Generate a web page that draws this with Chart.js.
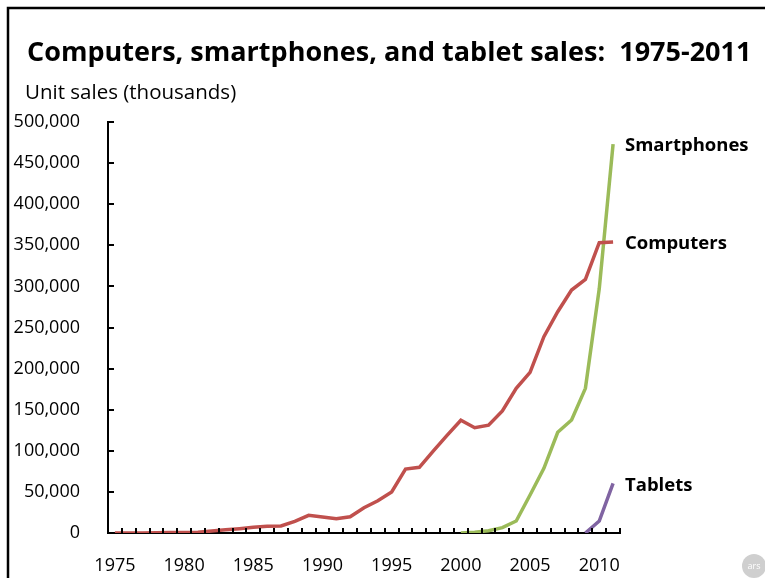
<!DOCTYPE html>
<html>
<head>
<meta charset="utf-8">
<script src="https://cdn.jsdelivr.net/npm/chart.js@4.4.0/dist/chart.umd.min.js"></script>
<style>
    html, body { margin: 0; padding: 0; background: #fff; }
    #wrap { position: relative; width: 765px; height: 578px; }
</style>
</head>
<body>
<div id="wrap"><canvas id="salesChart" width="765" height="578"></canvas></div>
<script>
// data (unit sales, thousands)
const years = [];
for (let y = 1975; y <= 2011; y++) years.push(String(y));

const computers = [40, 50, 100, 250, 500, 700, 900, 2400, 4000, 5300,
    6900, 8100, 8500, 14200, 21500, 19500, 17400, 19800, 30800, 39300,
    50000, 77700, 79900, 99700, 118800, 137200, 128100, 131200, 148600, 176000,
    195500, 238800, 269200, 295600, 308600, 353200, 354000];

const smartphones = [null, null, null, null, null, null, null, null, null, null,
    null, null, null, null, null, null, null, null, null, null,
    null, null, null, null, null, 0, 1000, 2800, 6500, 14600,
    46200, 78700, 122500, 137500, 176000, 297000, 473000];

const tablets = [null, null, null, null, null, null, null, null, null, null,
    null, null, null, null, null, null, null, null, null, null,
    null, null, null, null, null, null, null, null, null, null,
    null, null, null, null, 0, 14600, 60400];

const yTicks = [0, 50000, 100000, 150000, 200000, 250000, 300000, 350000, 400000, 450000, 500000];

const FONT = "'Open Sans', 'Noto Sans', sans-serif";

// title, subtitle, frame, inner ticks and end labels
const decorations = {
    id: 'decorations',
    afterDraw(chart) {
        const ctx = chart.ctx;
        const x = chart.scales.x, y = chart.scales.y;
        const area = chart.chartArea;
        ctx.save();

        // frame
        ctx.strokeStyle = '#000';
        ctx.lineWidth = 2.5;
        ctx.beginPath();
        ctx.moveTo(8, 578);
        ctx.lineTo(8, 8);
        ctx.lineTo(765, 8);
        ctx.stroke();

        // title + subtitle
        ctx.fillStyle = '#000';
        ctx.textBaseline = 'alphabetic';
        ctx.textAlign = 'left';
        ctx.font = 'bold 27px ' + FONT;
        ctx.fillText('Computers, smartphones, and tablet sales:  1975-2011', 27, 61);
        ctx.font = '20.5px ' + FONT;
        ctx.fillText('Unit sales (thousands)', 25, 99);

        // inner tick marks
        ctx.lineWidth = 2;
        ctx.beginPath();
        yTicks.forEach(v => {
            const py = Math.round(y.getPixelForValue(v));
            ctx.moveTo(area.left, py);
            ctx.lineTo(area.left + 6, py);
        });
        const step = (area.right - area.left) / years.length;
        for (let i = 0; i <= years.length; i++) {
            const px = Math.round(area.left + i * step);
            ctx.moveTo(px, area.bottom);
            ctx.lineTo(px, area.bottom - 5);
        }
        ctx.stroke();

        // series labels at line ends
        ctx.font = 'bold 18.5px ' + FONT;
        ctx.textBaseline = 'middle';
        chart.data.datasets.forEach((ds, i) => {
            const meta = chart.getDatasetMeta(i);
            const last = meta.data[meta.data.length - 1];
            ctx.fillText(ds.label, area.right + 5, last.y + 2);
        });

        // small logo mark
        ctx.fillStyle = '#cfcfcf';
        ctx.beginPath();
        ctx.arc(754, 566, 12, 0, Math.PI * 2);
        ctx.fill();
        ctx.fillStyle = '#fff';
        ctx.font = '9px ' + FONT;
        ctx.textAlign = 'center';
        ctx.fillText('ars', 754, 566);
        ctx.restore();
    }
};

const ctx = document.getElementById('salesChart').getContext('2d');
const chart = new Chart(ctx, {
    type: 'line',
    data: {
        labels: years,
        datasets: [
            { label: 'Computers', data: computers, borderColor: '#C0504D' },
            { label: 'Smartphones', data: smartphones, borderColor: '#9BBB59' },
            { label: 'Tablets', data: tablets, borderColor: '#8064A2' }
        ]
    },
    options: {
        responsive: false,
        animation: false,
        layout: { padding: { top: 122, right: 145, left: 0, bottom: 0 } },
        elements: {
            line: { borderWidth: 3.5, tension: 0, borderCapStyle: 'butt' },
            point: { radius: 0 }
        },
        plugins: {
            legend: { display: false },
            title: { display: false },
            tooltip: { enabled: false }
        },
        scales: {
            x: {
                offset: true,
                grid: { display: false },
                border: { display: true, color: '#000', width: 2 },
                ticks: {
                    autoSkip: false,
                    maxRotation: 0,
                    padding: 14,
                    color: '#000',
                    font: { family: FONT, size: 18 },
                    callback: function (val, i) {
                        const yr = Number(years[i]);
                        return yr % 5 === 0 ? years[i] : '';
                    }
                },
                afterFit: scale => { scale.height = 45; }
            },
            y: {
                min: 0,
                max: 500000,
                grid: { display: false },
                border: { display: true, color: '#000', width: 2 },
                afterBuildTicks: scale => { scale.ticks = yTicks.map(v => ({ value: v })); },
                ticks: {
                    padding: 20,
                    color: '#000',
                    font: { family: FONT, size: 18 },
                    callback: v => v.toLocaleString('en-US')
                },
                afterFit: scale => { scale.width = 108; }
            }
        }
    },
    plugins: [decorations]
});
</script>
</body>
</html>
